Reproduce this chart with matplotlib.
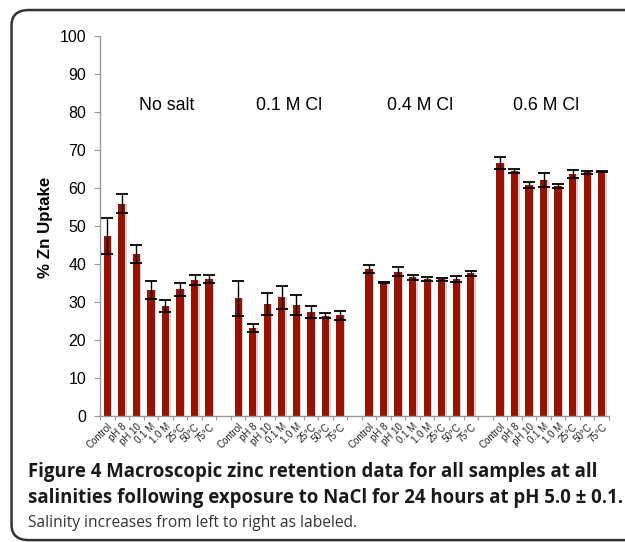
import matplotlib
matplotlib.use("Agg")
import matplotlib.pyplot as plt
from matplotlib.patches import FancyBboxPatch
import numpy as np

conditions = ["Control", "pH 8", "pH 10", "0.1 M", "1.0 M", "25°C", "50°C", "75°C"]
groups = ["No salt", "0.1 M Cl", "0.4 M Cl", "0.6 M Cl"]

no_salt = [47.4, 55.9, 42.6, 33.1, 28.9, 33.3, 35.8, 36.0]
no_salt_err = [4.8, 2.6, 2.4, 2.3, 1.5, 1.7, 1.2, 1.1]
cl_01 = [31.0, 23.1, 29.5, 31.2, 29.2, 27.4, 26.4, 26.5]
cl_01_err = [4.6, 1.0, 2.8, 3.1, 2.7, 1.5, 0.7, 1.2]
cl_04 = [38.7, 35.1, 38.0, 36.5, 36.0, 36.0, 36.0, 37.5]
cl_04_err = [1.0, 0.2, 1.1, 0.6, 0.5, 0.4, 0.8, 0.7]
cl_06 = [66.5, 64.4, 60.8, 62.1, 60.5, 63.7, 64.1, 64.3]
cl_06_err = [1.6, 0.5, 0.7, 1.8, 0.5, 1.1, 0.4, 0.2]

caption_line1 = "Figure 4 Macroscopic zinc retention data for all samples at all"
caption_line2 = "salinities following exposure to NaCl for 24 hours at pH 5.0 \u00b1 0.1."
caption_plain = "Salinity increases from left to right as labeled."

series = [no_salt, cl_01, cl_04, cl_06]
errors = [no_salt_err, cl_01_err, cl_04_err, cl_06_err]

plt.rcParams['font.family'] = ['Liberation Sans', 'DejaVu Sans']

fig = plt.figure(figsize=(6.25, 5.42), dpi=100)
ax = fig.add_axes([0.16, 0.2325, 0.8144, 0.7011])

bar_color = "#951300"
n = len(conditions)
xs_all, labels_all = [], []
for gi, (vals, errs) in enumerate(zip(series, errors)):
    xs = np.arange(n) + gi * (n + 1)
    ax.bar(xs + 0.1, vals, width=0.5, color="#d8d0d0", zorder=1)
    ax.bar(xs, vals, width=0.5, color=bar_color, zorder=2)
    ax.errorbar(xs, vals, yerr=errs, fmt="none", ecolor="black",
                elinewidth=1.0, capsize=4.6, capthick=1.3, zorder=3)
    xs_all.extend(xs)
    labels_all.extend(conditions)

total = len(groups) * (n + 1) - 1
ax.set_xlim(-0.5, total - 0.5)
ax.set_ylim(0, 100)
ax.set_yticks(np.arange(0, 101, 10))
ax.set_xticks(xs_all)
ax.set_xticklabels(labels_all, rotation=45, ha="right", rotation_mode="anchor",
                   fontsize=7, color="#222222")
ax.set_xticks(np.arange(-0.5, total, 1.0), minor=True)
ax.tick_params(axis="x", which="major", length=0, pad=4)
ax.tick_params(axis="x", which="minor", length=3, color="#999999", width=0.8)
ax.tick_params(axis="y", length=4, color="#999999", width=0.8, labelsize=11.5, pad=6)

for s in ["top", "right"]:
    ax.spines[s].set_visible(False)
for s in ["left", "bottom"]:
    ax.spines[s].set_color("#999999")
    ax.spines[s].set_linewidth(1.0)

label_x = [4.1, 1 * (n + 1) + 3.5, 2 * (n + 1) + 3.5, 3 * (n + 1) + 3.2]
for lx, g in zip(label_x, groups):
    ax.text(lx, 81.6, g, ha="center", va="center", fontsize=12.8)

fig.text(0.073, 0.58, "% Zn Uptake", rotation=90, ha="center", va="center",
         fontsize=12.2, fontweight="bold")

# figure frame with rounded corners
frame = FancyBboxPatch((0.0185, 0.0035), 1.2, 0.9815 - 0.0035,
                       boxstyle="round,pad=0,rounding_size=0.028",
                       transform=fig.transFigure, fill=False,
                       edgecolor="#333333", linewidth=1.8, clip_on=False)
fig.add_artist(frame)

cap_font = ["Open Sans", "DejaVu Sans"]
fig.text(0.0448, 1 - 477 / 542, caption_line1, ha="left", va="baseline", fontsize=13.4,
         fontweight="bold", family=cap_font, color="#1a1a1a")
fig.text(0.0448, 1 - 503 / 542, caption_line2, ha="left", va="baseline", fontsize=13.4,
         fontweight="bold", family=cap_font, color="#1a1a1a")
fig.text(0.0448, 1 - 527 / 542, caption_plain, ha="left", va="baseline", fontsize=11.2,
         family=cap_font, color="#333333")

fig.savefig("out.png", dpi=100)
